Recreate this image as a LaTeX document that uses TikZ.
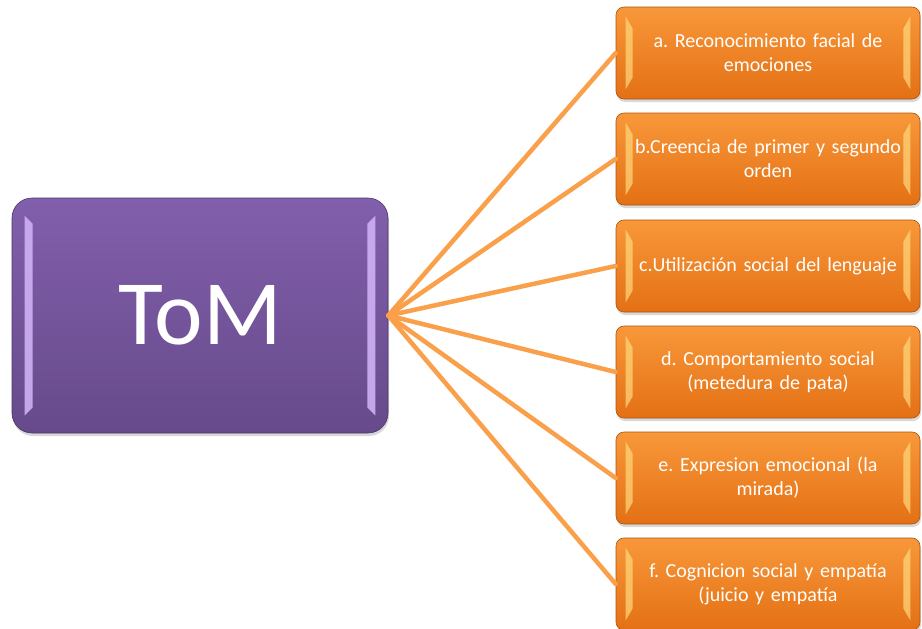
\documentclass[tikz,border=0pt]{standalone}
\usepackage{fontspec}
\setmainfont{Carlito}
\frenchspacing
\usetikzlibrary{shadows,calc}
\definecolor{ortop}{RGB}{248,152,58}
\definecolor{orbot}{RGB}{228,112,20}
\definecolor{orline}{RGB}{250,160,75}
\definecolor{putop}{RGB}{130,95,172}
\definecolor{pubot}{RGB}{102,74,138}
\definecolor{puedge}{RGB}{212,182,250}
\definecolor{oredge}{RGB}{255,218,125}
\tikzset{
  leaf/.style={rounded corners=8pt, minimum width=304pt, minimum height=92pt,
    top color=ortop, bottom color=orbot, draw=orbot!75!black, line width=0.6pt,
    text=white, font=\fontsize{20}{24}\selectfont\frenchspacing, align=center, text width=300pt,
    inner sep=0pt, drop shadow={opacity=0.3, shadow xshift=1pt, shadow yshift=-3pt}},
  hubbox/.style={rounded corners=20pt, minimum width=376pt, minimum height=235pt,
    top color=putop, bottom color=pubot, draw=pubot!75!black, line width=0.6pt,
    text=white, font=\fontsize{92}{110}\selectfont, inner sep=0pt,
    drop shadow={opacity=0.3, shadow xshift=1pt, shadow yshift=-3pt}},
  spoke/.style={draw=orline, line width=4.5pt},
  orbevel/.style={fill=oredge, opacity=0.7},
  pubevel/.style={fill=puedge, opacity=0.85},
}
\begin{document}
\begin{tikzpicture}[x=1pt,y=-1pt]
\useasboundingbox (0,0) rectangle (922,629);
\fill[white] (0,0) rectangle (922,629);
\coordinate (hubc) at (200,315.5);
\node[hubbox] (tom) at (hubc) {ToM};
\node[leaf] (a) at (768,53) {a. Reconocimiento facial de\\emociones};
\node[leaf] (b) at (768,159) {b.Creencia de primer y segundo\\orden};
\node[leaf] (c) at (768,266) {c.Utilización social del lenguaje};
\node[leaf] (d) at (768,372) {d. Comportamiento social\\(metedura de pata)};
\node[leaf] (e) at (768,478) {e. Expresion emocional (la\\mirada)};
\node[leaf] (f) at (768,584) {f. Cognicion social y empatía\\(juicio y empatía};
% bevel highlights
\foreach \n in {a,b,c,d,e,f}{
  \fill[orbevel] ($(\n.north west)+(10,10)$) -- ($(\n.north west)+(17,22)$) -- ($(\n.south west)+(17,-22)$) -- ($(\n.south west)+(10,-10)$) -- cycle;
  \fill[orbevel] ($(\n.north east)+(-10,10)$) -- ($(\n.north east)+(-17,22)$) -- ($(\n.south east)+(-17,-22)$) -- ($(\n.south east)+(-10,-10)$) -- cycle;
}
\fill[pubevel] ($(tom.north west)+(13,18)$) -- ($(tom.north west)+(21,26)$) -- ($(tom.south west)+(21,-26)$) -- ($(tom.south west)+(13,-18)$) -- cycle;
\fill[pubevel] ($(tom.north east)+(-13,18)$) -- ($(tom.north east)+(-21,26)$) -- ($(tom.south east)+(-21,-26)$) -- ($(tom.south east)+(-13,-18)$) -- cycle;
% spokes
\foreach \n in {a,b,c,d,e,f}{
  \draw[spoke, line cap=round] (tom.east) -- (\n.west);
}
\end{tikzpicture}
\end{document}
